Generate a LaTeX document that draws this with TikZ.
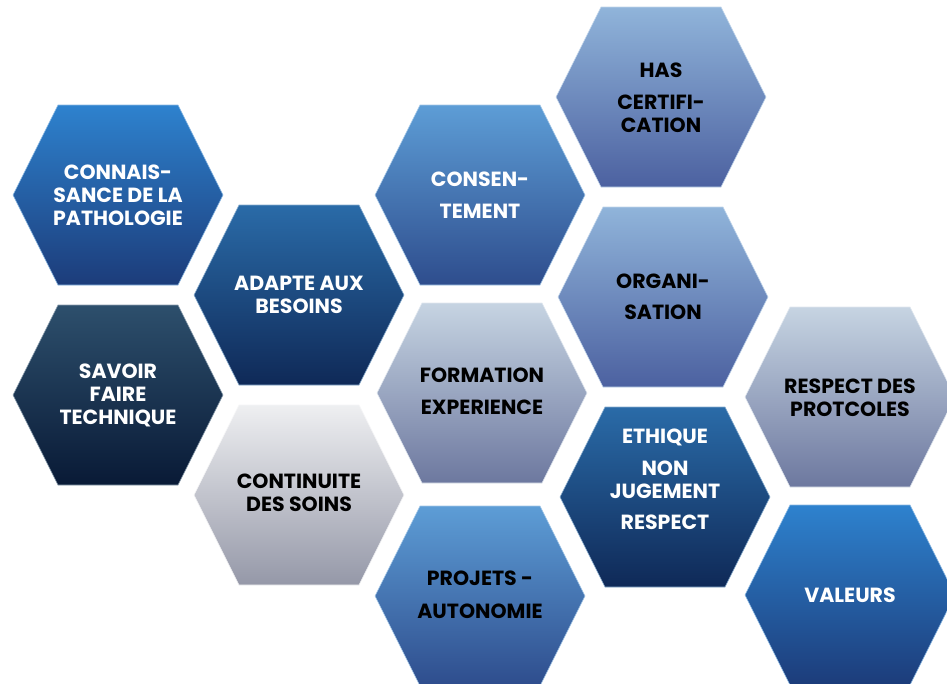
\documentclass[tikz,border=0pt]{standalone}
\usepackage{fontspec}
\setmainfont{Poppins}
\usetikzlibrary{calc}

% gradient pairs for the cells (top / bottom)
\definecolor{deepA}{HTML}{2E82CE}\definecolor{deepB}{HTML}{1C3C7A}
\definecolor{royalA}{HTML}{2A6BA8}\definecolor{royalB}{HTML}{0F2957}
\definecolor{navyA}{HTML}{2D4F6C}\definecolor{navyB}{HTML}{091A36}
\definecolor{silverA}{HTML}{EEEFF1}\definecolor{silverB}{HTML}{9598A8}
\definecolor{midA}{HTML}{5D9DD6}\definecolor{midB}{HTML}{2E4D8D}
\definecolor{paleA}{HTML}{90B4DA}\definecolor{paleB}{HTML}{4C61A0}
\definecolor{steelA}{HTML}{C6D4E2}\definecolor{steelB}{HTML}{6D789F}

\tikzset{
  label/.style={align=center, font=\bfseries\fontsize{20.5}{23}\selectfont, inner sep=0pt},
  light/.style={label, text=white},
  dark/.style={label, text=black},
}

% \hexcell{name}{centre}{top colour}{bottom colour}
\newcommand\hexcell[4]{%
  \coordinate (#1) at #2;
  \shade[top color=#3, bottom color=#4, draw=#3!55!white, line width=0.6pt]
    ($(#1)+(-105,0)$) -- ($(#1)+(-60,90)$) -- ($(#1)+(60,90)$) --
    ($(#1)+(105,0)$) -- ($(#1)+(60,-90)$) -- ($(#1)+(-60,-90)$) -- cycle;}

\begin{document}
\begin{tikzpicture}[x=1pt,y=1pt]
\useasboundingbox (0,0) rectangle (947,-683);
\clip (0,0) rectangle (947,-683);
\fill[white] (0,0) rectangle (947,-683);

% honeycomb cells
\hexcell{c1}{(118,-195)}{deepA}{deepB}
\hexcell{c2}{(299,-295)}{royalA}{royalB}
\hexcell{c3}{(118,-395)}{navyA}{navyB}
\hexcell{c4}{(299,-495)}{silverA}{silverB}
\hexcell{c5}{(480,-195)}{midA}{midB}
\hexcell{c6}{(482,-393)}{steelA}{steelB}
\hexcell{c7}{(480,-596)}{midA}{midB}
\hexcell{c8}{(661,-97)}{paleA}{paleB}
\hexcell{c9}{(663,-297)}{paleA}{paleB}
\hexcell{c10}{(665,-497)}{royalA}{royalB}
\hexcell{c11}{(850,-397)}{steelA}{steelB}
\hexcell{c12}{(850,-595)}{deepA}{deepB}

% cell captions
\node[light] (t1) at (c1) {CONNAIS-\\SANCE DE LA\\PATHOLOGIE};
\node[light] (t2) at (c2) {ADAPTE AUX\\BESOINS};
\node[light] (t3) at ($(c3)+(0,0)$) {SAVOIR\\FAIRE\\TECHNIQUE};
\node[dark] (t4) at ($(c4)+(0,2)$) {CONTINUITE\\DES SOINS};
\node[light] (t5) at (c5) {CONSEN-\\[9pt]TEMENT};
\node[dark] (t6) at ($(c6)+(0,2)$) {FORMATION\\[9pt]EXPERIENCE};
\node[dark] (t7) at ($(c7)+(0,1)$) {PROJETS -\\[10pt]AUTONOMIE};
\node[dark] (t8) at ($(c8)+(0,-1)$) {HAS\\[9pt]CERTIFI-\\CATION};
\node[dark] (t9) at (c9) {ORGANI-\\[8pt]SATION};
\node[light] (t10) at ($(c10)+(0,18)$) {ETHIQUE\\[9pt]NON\\JUGEMENT\\[8pt]RESPECT};
\node[dark] (t11) at ($(c11)+(0,-1)$) {RESPECT DES\\PROTCOLES};
\node[light] (t12) at (c12) {VALEURS};
\end{tikzpicture}
\end{document}
